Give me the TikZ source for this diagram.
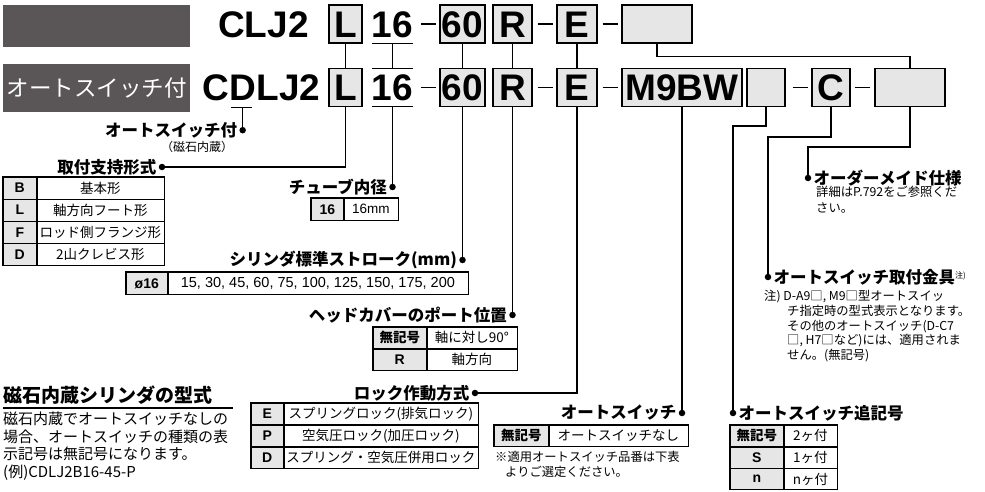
\documentclass[tikz,border=0pt]{standalone}
\usepackage{fontspec}
\setmainfont{Noto Sans CJK JP}
\newfontfamily\hv{Liberation Sans}
\usetikzlibrary{positioning, calc}

\definecolor{bandgray}{HTML}{5A5657}
\definecolor{cellgray}{HTML}{E6E6E6}

\tikzset{
  band/.style={fill=bandgray, text=white, inner sep=0pt, anchor=north west, font=\fontsize{22.5}{24}\selectfont},
  code/.style={inner sep=0pt, text height=27pt, text depth=0pt, font=\hv\bfseries\fontsize{37}{40}\selectfont},
  codebox/.style={code, draw, fill=cellgray, line width=1.1pt, minimum height=38pt},
  codeopen/.style={code, minimum height=38pt, minimum width=39pt},
  hyph/.style={line width=1.8pt},
  conn/.style={line width=1.2pt},
  bullet/.style={circle, fill=black, inner sep=0pt, minimum size=6.5pt},
  head/.style={inner sep=0pt, font=\bfseries\fontsize{16.5}{18}\selectfont},
  note/.style={inner sep=0pt, align=left, font=\fontsize{12.3}{14.8}\selectfont},
  keycell/.style={draw, line width=0.6pt, fill=cellgray, inner sep=0pt, minimum height=21.5pt, font=\bfseries\fontsize{13.5}{15}\selectfont},
  keyhv/.style={keycell, font=\hv\bfseries\fontsize{14}{15}\selectfont},
  valcell/.style={draw, line width=0.6pt, fill=white, inner sep=0pt, minimum height=21.5pt, font=\fontsize{13.5}{15}\selectfont},
  frame/.style={line width=1.1pt},
}

\begin{document}
\begin{tikzpicture}[x=1pt, y=-1pt]
\useasboundingbox (0,0) rectangle (985,492);

% header bands
\node[band, minimum width=187pt, minimum height=42pt] (bandTop) at (3,5) {};
\node[band, minimum width=187pt, minimum height=48pt] (bandSw) at (3,64) {オートスイッチ付};

% model code without switch
\node[code, anchor=west] (tName) at (218,24) {CLJ2};
\node[codebox, minimum width=33pt] (tL) at (345.5,24) {L};
\node[codeopen] (t16) at (392.5,24) {16};
\node[codebox, minimum width=45pt] (t60) at (462.5,24) {60};
\node[codebox, minimum width=39pt] (tR) at (512.5,24) {R};
\node[codebox, minimum width=40pt] (tE) at (577,24) {E};
\node[codebox, minimum width=70pt] (tMade) at (657,24) {};

% model code with switch
\node[code, anchor=west] (bC0) at (202,87.5) {C};
\node[code, right=0pt of bC0] (bD) {D};
\node[code, right=0pt of bD] (bName) {LJ2};
\node[codebox, minimum width=33pt] (bL) at (345.5,87.5) {L};
\node[codeopen] (b16) at (392.5,87.5) {16};
\node[codebox, minimum width=45pt] (b60) at (462.5,87.5) {60};
\node[codebox, minimum width=39pt] (bR) at (512.5,87.5) {R};
\node[codebox, minimum width=40pt] (bE) at (577,87.5) {E};
\node[codebox, minimum width=120pt] (bSw) at (682,87.5) {M9BW};
\node[codebox, minimum width=38pt] (bSfx) at (766,87.5) {};
\node[codebox, minimum width=38pt] (bBr) at (831,87.5) {C};
\node[codebox, minimum width=70pt] (bMade) at (910,87.5) {};

\draw[conn] (t16.south west) -- (t16.south east);
\draw[conn] (b16.north west) -- (b16.north east);
\draw[conn] (b16.south west) -- (b16.south east);

\draw[hyph] ($(t16.east)+(8,0)$) -- +(15,0);
\draw[hyph] ($(tR.east)+(5,0)$) -- +(15,0);
\draw[hyph] ($(tE.east)+(5,0)$) -- +(15,0);
\draw[hyph] ($(b16.east)+(8,0)$) -- +(15,0);
\draw[hyph] ($(bR.east)+(5,0)$) -- +(15,0);
\draw[hyph] ($(bE.east)+(5,0)$) -- +(15,0);
\draw[hyph] ($(bSfx.east)+(7,0)$) -- +(15,0);
\draw[hyph] ($(bBr.east)+(4,0)$) -- +(15,0);

\draw[conn] (tL) -- (bL);
\draw[conn] (t16) -- (b16);
\draw[conn] (t60) -- (b60);
\draw[conn] (tR) -- (bR);
\draw[conn] (tE) -- (bE);
\draw[conn] (tMade.south) -- ++(0,13) -| (bMade.north);

% auto switch (magnet)
\draw[conn] ([xshift=2pt, yshift=-6pt]bD.south west) -- ([xshift=-4pt, yshift=-6pt]bD.south east);
\node[bullet] (dAs) at ([yshift=-29pt]bD.south) {};
\draw[conn] ([yshift=-6pt]bD.south) -- (dAs);
\node[head, anchor=east] (lAs) at ([xshift=-2pt]dAs.west) {オートスイッチ付};
\node[inner sep=0pt, font=\fontsize{12}{13}\selectfont, anchor=east] (lAsNote) at ([xshift=-4pt, yshift=-17pt]lAs.east) {（磁石内蔵）};

% mounting
\node[bullet] (dMount) at (162,167) {};
\node[head, anchor=east] (lMount) at ([xshift=-2pt]dMount.west) {取付支持形式};
\draw[conn] (bL) |- (dMount);
\node[keyhv, minimum width=33pt, anchor=north west] (kB) at (3,177) {B};
\node[valcell, minimum width=127pt, right=0pt of kB] (vB) {基本形};
\node[keyhv, minimum width=33pt, below=0pt of kB] (kL) {L};
\node[valcell, minimum width=127pt, right=0pt of kL] (vL) {軸方向フート形};
\node[keyhv, minimum width=33pt, below=0pt of kL] (kF) {F};
\node[valcell, minimum width=127pt, right=0pt of kF] (vF) {ロッド側フランジ形};
\node[keyhv, minimum width=33pt, below=0pt of kF] (kD) {D};
\node[valcell, minimum width=127pt, right=0pt of kD] (vD) {2山クレビス形};
\draw[frame] (kB.north west) rectangle (vD.south east);

% bore size
\node[bullet] (dBore) at (392.5,187) {};
\node[head, anchor=east] (lBore) at ([xshift=-2pt]dBore.west) {チューブ内径};
\draw[conn] (b16) -- (dBore);
\node[keyhv, minimum width=32pt, minimum height=22pt, anchor=north west] (kBore) at (311,198) {16};
\node[valcell, minimum width=54pt, minimum height=22pt, right=0pt of kBore, font=\hv\fontsize{13.5}{15}\selectfont] (vBore) {16mm};
\draw[frame] (kBore.north west) rectangle (vBore.south east);

% stroke
\node[bullet] (dStroke) at (462.5,260) {};
\node[head, anchor=east] (lStroke) at ([xshift=-2pt]dStroke.west) {シリンダ標準ストローク(mm)};
\draw[conn] (b60) -- (dStroke);
\node[keyhv, minimum width=41pt, minimum height=22pt, anchor=north west] (kStroke) at (126,272) {ø16};
\node[valcell, minimum width=300pt, minimum height=22pt, right=0pt of kStroke, font=\hv\fontsize{14.5}{16}\selectfont] (vStroke) {15, 30, 45, 60, 75, 100, 125, 150, 175, 200};
\draw[frame] (kStroke.north west) rectangle (vStroke.south east);

% port position
\node[bullet] (dPort) at (512.5,315) {};
\node[head, anchor=east] (lPort) at ([xshift=-2pt]dPort.west) {ヘッドカバーのポート位置};
\draw[conn] (bR) -- (dPort);
\node[keycell, minimum width=53pt, minimum height=21pt, anchor=north west] (kPort) at (373,327) {無記号};
\node[valcell, minimum width=90pt, minimum height=21pt, right=0pt of kPort] (vPort) {軸に対し90°};
\node[keyhv, minimum width=53pt, minimum height=21pt, below=0pt of kPort] (kPortR) {R};
\node[valcell, minimum width=90pt, minimum height=21pt, right=0pt of kPortR] (vPortR) {軸方向};
\draw[frame] (kPort.north west) rectangle (vPortR.south east);

% lock
\node[bullet] (dLock) at (475,393) {};
\node[head, anchor=east] (lLock) at ([xshift=-2pt]dLock.west) {ロック作動方式};
\draw[conn] (bE) |- (dLock);
\node[keyhv, minimum width=32pt, minimum height=21.3pt, anchor=north west] (kLockE) at (251,403) {E};
\node[valcell, minimum width=194pt, minimum height=21.3pt, right=0pt of kLockE] (vLockE) {スプリングロック(排気ロック)};
\node[keyhv, minimum width=32pt, minimum height=21.3pt, below=0pt of kLockE] (kLockP) {P};
\node[valcell, minimum width=194pt, minimum height=21.3pt, right=0pt of kLockP] (vLockP) {空気圧ロック(加圧ロック)};
\node[keyhv, minimum width=32pt, minimum height=21.3pt, below=0pt of kLockP] (kLockD) {D};
\node[valcell, minimum width=194pt, minimum height=21.3pt, right=0pt of kLockD] (vLockD) {スプリング・空気圧併用ロック};
\draw[frame] (kLockE.north west) rectangle (vLockD.south east);

% auto switch
\node[bullet] (dSw) at (682,413) {};
\node[head, anchor=east] (lSw) at ([xshift=-2pt]dSw.west) {オートスイッチ};
\draw[conn] (bSw) -- (dSw);
\node[keycell, minimum width=54pt, minimum height=21pt, anchor=north west] (kSw) at (494,425) {無記号};
\node[valcell, minimum width=139pt, minimum height=21pt, right=0pt of kSw] (vSw) {オートスイッチなし};
\draw[frame] (kSw.north west) rectangle (vSw.south east);
\node[note, anchor=north west] (nSw) at (495,451) {※適用オートスイッチ品番は下表\\\hspace*{10pt}よりご選定ください。};

% switch suffix
\node[bullet] (dSfx) at (733,413) {};
\node[head, anchor=west] (lSfx) at ([xshift=2pt]dSfx.east) {オートスイッチ追記号};
\draw[conn] (bSfx.south) -- ++(0,19) -| (dSfx);
\node[keycell, minimum width=53pt, minimum height=21pt, anchor=north west] (kSfx) at (730,425) {無記号};
\node[valcell, minimum width=53pt, minimum height=21pt, right=0pt of kSfx] (vSfx) {2ヶ付};
\node[keyhv, minimum width=53pt, minimum height=21pt, below=0pt of kSfx] (kSfxS) {S};
\node[valcell, minimum width=53pt, minimum height=21pt, right=0pt of kSfxS] (vSfxS) {1ヶ付};
\node[keyhv, minimum width=53pt, minimum height=21pt, below=0pt of kSfxS] (kSfxN) {n};
\node[valcell, minimum width=53pt, minimum height=21pt, right=0pt of kSfxN] (vSfxN) {nヶ付};
\draw[frame] (kSfx.north west) rectangle (vSfxN.south east);

% switch bracket
\node[bullet] (dBr) at (768,277) {};
\node[head, anchor=west] (lBr) at ([xshift=2pt]dBr.east) {オートスイッチ取付金具{\mdseries\fontsize{8}{9}\selectfont\raisebox{5pt}{注)}}};
\draw[conn] (bBr.south) -- ++(0,30) -| (dBr);
\node[note, anchor=north west] (nBr) at (764,290) {注) D-A9□, M9□型オートスイッ\\\hspace*{23pt}チ指定時の型式表示となります。\\\hspace*{23pt}その他のオートスイッチ(D-C7\\\hspace*{23pt}□, H7□など)には、適用されま\\\hspace*{23pt}せん。(無記号)};

% made to order
\node[bullet] (dMade) at (808,178) {};
\node[head, anchor=west] (lMade) at ([xshift=2pt]dMade.east) {オーダーメイド仕様};
\draw[conn] (bMade.south) -- ++(0,40) -| (dMade);
\node[note, anchor=north west, font=\fontsize{12.3}{16}\selectfont] (nMade) at (816,186) {詳細はP.792をご参照くだ\\さい。};

% magnet built-in cylinder
\node[inner sep=0pt, anchor=south west, font=\bfseries\fontsize{19}{21}\selectfont] (magTitle) at (3,405) {磁石内蔵シリンダの型式};
\draw[conn] ([yshift=-3pt]magTitle.south west) -- ++(230,0);
\node[inner sep=0pt, anchor=north west, align=left, font=\fontsize{15}{17.5}\selectfont] (magText) at (3,412) {磁石内蔵でオートスイッチなしの\\場合、オートスイッチの種類の表\\示記号は無記号になります。\\(例)CDLJ2B16-45-P};

\end{tikzpicture}
\end{document}
